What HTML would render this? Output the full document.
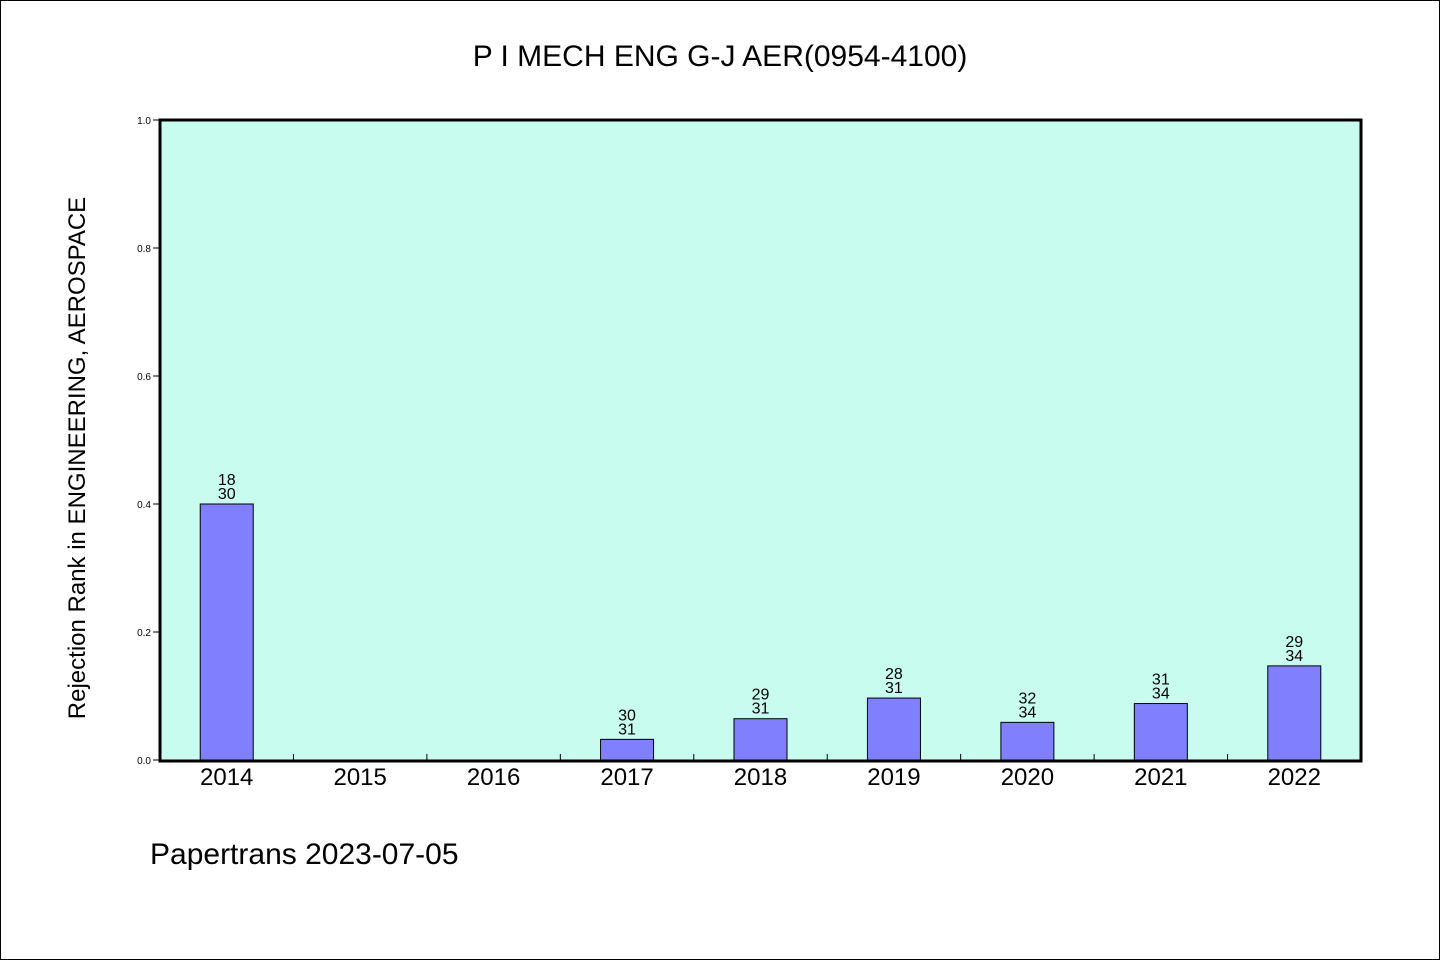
<!DOCTYPE html>
<html><head><meta charset="utf-8"><style>
body{margin:0;background:#fff}
svg text{font-family:"WenQuanYi Zen Hei","Liberation Sans",sans-serif}
</style></head><body>
<svg id="c" width="1440" height="960" xmlns="http://www.w3.org/2000/svg">
<rect x="0.5" y="0.5" width="1439" height="959" fill="#fff" stroke="#000"/>
<text x="720" y="66" text-anchor="middle" font-size="30">P I MECH ENG G-J AER(0954-4100)</text>
<rect x="160" y="120" width="1201" height="641" fill="#c8fcee"/>
<g id="g"></g>
<rect x="160" y="120" width="1201" height="641" fill="none" stroke="#000" stroke-width="3"/>
<text transform="translate(85,458) rotate(-90)" text-anchor="middle" font-size="24">Rejection Rank in ENGINEERING, AEROSPACE</text>
<text x="150" y="864" font-size="30">Papertrans 2023-07-05</text>
</svg>
<script>
const categories=["2014","2015","2016","2017","2018","2019","2020","2021","2022"];
const ranks=[18,null,null,30,29,28,32,31,29];
const totals=[30,null,null,31,31,31,34,34,34];
const yTicks=["0.0","0.2","0.4","0.6","0.8","1.0"];
const X0=160,W=1201,Y0=760,H=640;
const band=W/categories.length;
const xs=i=>X0+band*(i+0.5);
const ys=v=>Y0-v*H;
const g=document.getElementById('g');
const NS="http://www.w3.org/2000/svg";
function mk(t,a){const e=document.createElementNS(NS,t);for(const k in a)e.setAttribute(k,a[k]);g.appendChild(e);return e;}
yTicks.forEach(t=>{const v=parseFloat(t);
const l=mk('line',{x1:153,x2:160,y1:ys(v),y2:ys(v),stroke:'#000'});


const tx=mk('text',{x:151,y:ys(v)+4,'text-anchor':'end','font-size':10});tx.textContent=t;

});
categories.forEach((c,i)=>{
if(i>0){const tk=mk('line',{x1:X0+band*i,x2:X0+band*i,y1:754,y2:760,stroke:'#000'});

}
const lb=mk('text',{x:xs(i),y:785,'text-anchor':'middle','font-size':24});lb.textContent=c;


if(ranks[i]==null)return;
const v=1-ranks[i]/totals[i];
const b=mk('rect',{x:xs(i)-26.5,y:ys(v),width:53,height:Y0-ys(v),fill:'#8080ff',stroke:'#000','stroke-width':1});


const t1=mk('text',{x:xs(i),y:ys(v)-19,'text-anchor':'middle','font-size':16});t1.textContent=ranks[i];


const t2=mk('text',{x:xs(i),y:ys(v)-5,'text-anchor':'middle','font-size':16});t2.textContent=totals[i];


});
</script>
</body></html>
